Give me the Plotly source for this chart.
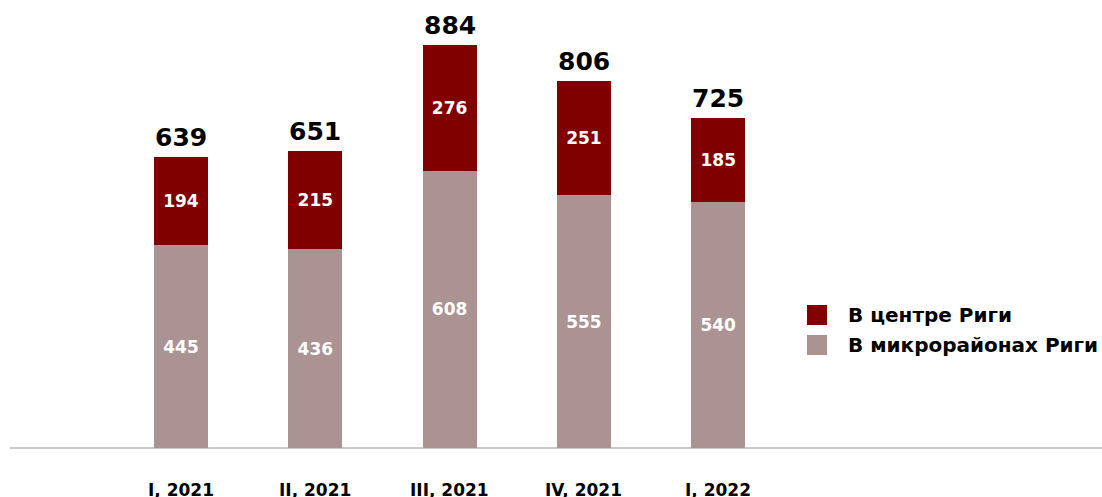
import plotly.graph_objects as go

categories = ["I, 2021", "II, 2021", "III, 2021", "IV, 2021", "I, 2022"]
center_vals = [194, 215, 276, 251, 185]
micro_vals = [445, 436, 608, 555, 540]
totals = [639, 651, 884, 806, 725]
series_names = ["В центре Риги", "В микрорайонах Риги"]

C_CENTER = "#800000"
C_MICRO = "#ab9393"
FONT = "DejaVu Sans"

xs = list(range(len(categories)))

fig = go.Figure()
fig.add_trace(go.Bar(
    x=xs, y=micro_vals, name=series_names[1], marker_color=C_MICRO,
    width=0.402, text=micro_vals, textposition="inside", insidetextanchor="middle",
    textfont=dict(color="white", size=17, family=FONT, weight="bold"),
    showlegend=False, marker_line_width=0,
))
fig.add_trace(go.Bar(
    x=xs, y=center_vals, name=series_names[0], marker_color=C_CENTER,
    width=0.402, text=center_vals, textposition="inside", insidetextanchor="middle",
    textfont=dict(color="white", size=17, family=FONT, weight="bold"),
    showlegend=False, marker_line_width=0,
))

annotations = []
for x, t in zip(xs, totals):
    annotations.append(dict(x=x, y=t, xref="x", yref="y", text=f"<b>{t}</b>",
                            showarrow=False, yanchor="bottom", yshift=3,
                            font=dict(size=25, color="black", family=FONT)))
for x, c in zip(xs, categories):
    annotations.append(dict(x=x, y=0, xref="x", yref="paper", text=f"<b>{c}</b>",
                            showarrow=False, yanchor="top", yshift=-30,
                            font=dict(size=17, color="black", family=FONT)))

# manual legend
W, H = 1102, 497
ml, mr, mt, mb = 10, 0, 0, 49
pw, ph = W - ml - mr, H - mt - mb
def px(xp):
    return (xp - ml) / pw
def py(yp):
    return (H - mb - yp) / ph

shapes = []
for i, (name, col) in enumerate(zip(series_names, [C_CENTER, C_MICRO])):
    yc = 315 + 30 * i
    shapes.append(dict(type="rect", xref="paper", yref="paper",
                       x0=px(807), x1=px(827), y0=py(yc + 10), y1=py(yc - 10),
                       fillcolor=col, line=dict(width=0)))
    annotations.append(dict(x=px(846), y=py(yc), xref="paper", yref="paper",
                            text=f"<b>{name}</b>", showarrow=False,
                            xanchor="left", yanchor="middle",
                            font=dict(size=20, color="black", family=FONT)))

fig.update_layout(
    barmode="stack",
    width=W, height=H,
    margin=dict(l=ml, r=mr, t=mt, b=mb),
    paper_bgcolor="white", plot_bgcolor="white",
    xaxis=dict(range=[-1.273, 6.857], showticklabels=False, showgrid=False,
               zeroline=False, showline=False, ticks=""),
    yaxis=dict(range=[0, 983], showticklabels=False, showgrid=False,
               zeroline=True, zerolinecolor="#c8c8c8", zerolinewidth=2,
               showline=False, ticks=""),
    annotations=annotations,
    shapes=shapes,
    uniformtext=dict(mode="show", minsize=10),
)

fig.write_html("out.html")
